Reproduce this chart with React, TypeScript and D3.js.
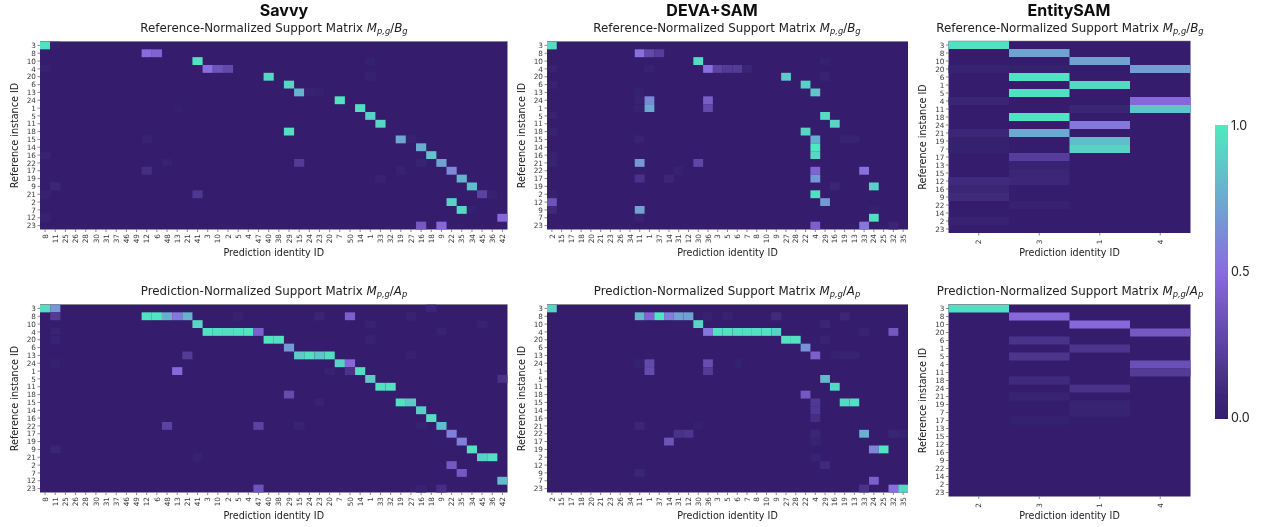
import React from "react";
import * as d3 from "d3";

type T = [number, number, number];

const savvyRows = [3, 8, 10, 4, 20, 6, 13, 24, 1, 5, 11, 18, 15, 14, 16, 22, 17, 19, 9, 21, 2, 7, 12, 23];
const savvyCols = [8, 11, 25, 26, 28, 30, 31, 37, 46, 49, 12, 6, 48, 13, 21, 41, 3, 10, 2, 5, 4, 47, 40, 38, 29, 15, 24, 23, 20, 7, 50, 14, 1, 33, 32, 19, 27, 16, 18, 9, 22, 35, 34, 45, 36, 42];
const devaRows = [3, 8, 10, 4, 20, 6, 13, 24, 1, 5, 11, 18, 15, 14, 16, 21, 22, 17, 19, 2, 12, 9, 7, 23];
const devaCols = [2, 15, 17, 18, 20, 21, 23, 26, 34, 11, 1, 37, 14, 31, 12, 30, 36, 3, 5, 6, 7, 8, 10, 9, 27, 28, 22, 4, 29, 16, 19, 13, 33, 24, 25, 32, 35];
const entityRows = [3, 8, 10, 20, 6, 1, 5, 4, 11, 18, 24, 21, 19, 7, 17, 13, 15, 12, 16, 9, 22, 14, 2, 23];
const entityCols = [2, 3, 1, 4];

// [reference id, prediction id, value]; unlisted cells are ~0
const savvyRef: T[] = [
  [3, 8, .97], [3, 11, .02], [8, 12, .5], [8, 6, .45], [10, 41, .97], [10, 1, .02], [4, 8, .03], [4, 3, .52], [4, 10, .35], [4, 2, .28],
  [20, 40, .92], [20, 1, .03], [6, 29, .92], [13, 15, .78], [13, 24, .04], [13, 23, .02], [24, 7, .97], [1, 14, .95], [1, 13, .02],
  [5, 1, .9], [11, 33, .92], [18, 29, .96], [15, 12, .04], [15, 19, .73], [15, 27, .03], [14, 16, .76], [16, 8, .04], [16, 18, .85],
  [22, 48, .03], [22, 15, .2], [22, 16, .05], [22, 9, .72], [17, 12, .12], [17, 22, .62], [17, 19, .03], [19, 33, .04], [19, 35, .78],
  [9, 11, .08], [9, 34, .82], [21, 8, .03], [21, 41, .18], [21, 45, .25], [21, 36, .03], [2, 22, .9], [7, 35, .92], [7, 34, .02],
  [12, 8, .03], [12, 42, .48], [23, 16, .38], [23, 9, .48],
];
const savvyPred: T[] = [
  [3, 8, .95], [3, 11, .68], [3, 18, .07], [8, 11, .2], [8, 12, .97], [8, 6, .98], [8, 48, .76], [8, 13, .55], [8, 21, .78], [8, 23, .07],
  [8, 50, .42], [8, 27, .05], [8, 5, .03], [10, 41, .92], [10, 1, .04], [10, 45, .04], [4, 11, .04], [4, 3, .97], [4, 10, .96], [4, 2, .95],
  [4, 5, .97], [4, 4, .98], [4, 47, .42], [4, 9, .04], [20, 11, .06], [20, 40, .98], [20, 38, .97], [20, 1, .05], [6, 29, .68],
  [13, 21, .2], [13, 15, .88], [13, 24, .96], [13, 23, .85], [13, 20, .95], [13, 27, .03], [24, 7, .92], [24, 50, .48], [24, 11, .02],
  [1, 13, .48], [1, 20, .04], [1, 50, .15], [1, 14, .95], [5, 1, .88], [5, 42, .14], [11, 33, .96], [11, 32, .97], [18, 29, .3],
  [15, 23, .04], [15, 19, .97], [15, 27, .87], [14, 16, .88], [16, 18, .96], [22, 48, .25], [22, 47, .25], [22, 15, .06], [22, 16, .03],
  [22, 9, .82], [17, 22, .58], [19, 35, .58], [9, 11, .07], [9, 34, .97], [21, 41, .03], [21, 45, .9], [21, 36, .96], [2, 22, .38],
  [7, 35, .38], [12, 42, .82], [23, 47, .35], [23, 16, .06], [23, 9, .13],
];
const devaRef: T[] = [
  [3, 2, .95], [8, 11, .52], [8, 1, .28], [8, 37, .22], [10, 30, .95], [10, 29, .02], [4, 2, .04], [4, 36, .52], [4, 3, .25], [4, 5, .2],
  [4, 6, .2], [4, 7, .07], [4, 1, .03], [20, 27, .88], [20, 29, .04], [6, 2, .06], [6, 22, .9], [13, 4, .85], [13, 11, .02], [24, 11, .04],
  [24, 1, .62], [24, 36, .4], [1, 11, .03], [1, 1, .74], [1, 36, .28], [5, 2, .04], [5, 29, .95], [11, 16, .92], [18, 2, .06], [18, 22, .92],
  [15, 11, .06], [15, 4, .75], [15, 19, .06], [15, 13, .04], [14, 4, 1], [16, 2, .04], [16, 4, .93], [21, 2, .05], [21, 11, .68], [21, 30, .27],
  [22, 31, .03], [22, 4, .45], [22, 33, .52], [17, 11, .15], [17, 14, .08], [17, 4, .68], [19, 16, .07], [19, 24, .9], [2, 2, .03], [2, 4, .95],
  [12, 2, .35], [12, 29, .68], [9, 2, .1], [9, 11, .72], [9, 24, .02], [7, 11, .04], [7, 24, .95], [23, 4, .42], [23, 33, .55], [23, 32, .07],
];
const devaPred: T[] = [
  [3, 2, .92], [8, 11, .8], [8, 1, .45], [8, 37, .98], [8, 14, .58], [8, 31, .72], [8, 12, .72], [8, 36, .03], [8, 5, .04], [8, 9, .1], [8, 19, .08],
  [10, 30, .92], [10, 29, .07], [4, 36, .55], [4, 3, .97], [4, 5, .97], [4, 6, .96], [4, 7, .96], [4, 8, .97], [4, 10, .97], [4, 9, .9], [4, 33, .05], [4, 32, .38],
  [20, 27, .97], [20, 28, .97], [20, 29, .05], [6, 22, .65], [13, 4, .42], [13, 16, .02], [13, 19, .04], [13, 13, .05], [24, 1, .28], [24, 36, .32],
  [24, 11, .02], [24, 6, .02], [1, 1, .3], [1, 36, .2], [5, 29, .8], [11, 16, .93], [18, 22, .38], [15, 4, .18], [15, 19, .93], [15, 13, .96],
  [14, 4, .18], [16, 4, .13], [21, 11, .08], [21, 30, .02], [22, 31, .15], [22, 12, .17], [22, 4, .07], [22, 33, .78], [22, 32, .07], [22, 35, .05],
  [17, 14, .35], [17, 4, .06], [19, 24, .6], [19, 25, .98], [2, 4, .06], [12, 29, .1], [9, 11, .07], [7, 24, .42], [23, 33, .15], [23, 32, .52], [23, 35, .92],
];
const entityRef: T[] = [
  [3, 2, .97], [8, 3, .72], [10, 1, .72], [20, 4, .7], [20, 2, .05], [20, 3, .02], [6, 3, .97], [1, 1, .92], [5, 3, .96], [4, 2, .07], [4, 4, .48],
  [11, 1, .07], [11, 4, .85], [18, 3, .97], [24, 1, .55], [21, 2, .08], [21, 3, .74], [19, 1, .82], [7, 1, .9], [7, 2, .02], [19, 2, .01], [17, 3, .22],
  [13, 3, .05], [15, 3, .07], [12, 2, .1], [12, 3, .08], [16, 2, .07], [9, 2, .09], [22, 3, .03], [2, 2, .04],
];
const entityPred: T[] = [
  [3, 2, .95], [8, 3, .48], [10, 1, .48], [20, 4, .38], [6, 3, .15], [1, 1, .17], [5, 3, .17], [4, 4, .33], [11, 4, .2], [18, 3, .1], [24, 1, .14],
  [21, 3, .04], [19, 1, .05], [7, 1, .04], [17, 3, .015],
];

const colorbarTicks = [0, 0.5, 1];
const color = d3.scaleLinear<string>().domain([0, 0.06, 0.5, 1]).range(["#341f6c", "#392473", "#8a6be0", "#4eeabf"]).interpolate(d3.interpolateRgb);

const DEJAVU = "'DejaVu Sans', sans-serif";
const TICK = "#3a3a3a";

function Heatmap({ x0, x1, y0, y1, rows, cols, cells, kind, tx, ylx, tickSize, xPad }: any) {
  const xs = d3.scaleBand<number>().domain(cols).range([x0, x1]);
  const ys = d3.scaleBand<number>().domain(rows).range([y0, y1]);
  const lookup = new Map(cells.map((c: T) => [c[0] + "_" + c[1], c[2]]));
  const isRef = kind === "ref";
  const sub = (t: string) => <tspan fontStyle="italic" fontSize={8.3} dy={2}>{t}</tspan>;
  return (
    <g>
      <text x={tx} y={y0 - 9.5} textAnchor="middle" fontFamily={DEJAVU} fontSize={11.85} fill="#222">
        {isRef ? "Reference" : "Prediction"}-Normalized Support Matrix{" "}
        <tspan fontStyle="italic">M</tspan>{sub("p,g")}
        <tspan dy={-2}>/</tspan>
        <tspan fontStyle="italic">{isRef ? "B" : "A"}</tspan>
        {sub(isRef ? "g" : "p")}
      </text>
      <rect x={x0} y={y0} width={x1 - x0} height={y1 - y0} fill={color(0)} />
      <g filter="url(#soft)">
        {rows.flatMap((r: number) =>
          cols.map((c: number) => {
            const v = lookup.get(r + "_" + c) as number | undefined;
            return v === undefined ? null : (
              <rect key={r + "_" + c} x={xs(c)} y={ys(r)} width={xs.bandwidth()} height={ys.bandwidth()} fill={color(v)} />
            );
          })
        )}
      </g>
      <line x1={x0} x2={x1} y1={y0} y2={y0} stroke="#777" strokeWidth={0.7} opacity={0.7} />
      {rows.map((r: number) => {
        const y = ys(r)! + ys.bandwidth() / 2;
        return (
          <g key={r}>
            <line x1={x0 - 2.5} x2={x0} y1={y} y2={y} stroke={TICK} strokeWidth={0.6} />
            <text x={x0 - 4} y={y} dy="0.36em" textAnchor="end" fontFamily={DEJAVU} fontSize={tickSize} fill={TICK}>{r}</text>
          </g>
        );
      })}
      {cols.map((c: number) => {
        const x = xs(c)! + xs.bandwidth() / 2;
        return (
          <g key={c}>
            <line x1={x} x2={x} y1={y1} y2={y1 + 2.5} stroke={TICK} strokeWidth={0.6} />
            <text transform={`translate(${x},${y1 + xPad}) rotate(-90)`} dy="0.36em" textAnchor="end" fontFamily={DEJAVU} fontSize={tickSize} fill={TICK}>{c}</text>
          </g>
        );
      })}
      <text x={(x0 + x1) / 2} y={isRef ? 255.5 : 518.5} textAnchor="middle" fontFamily={DEJAVU} fontSize={9.6} fill="#222">Prediction identity ID</text>
      <text transform={`translate(${ylx},${(y0 + y1) / 2}) rotate(-90)`} dy="0.36em" textAnchor="middle" fontFamily={DEJAVU} fontSize={9.6} fill="#222">Reference instance ID</text>
    </g>
  );
}

const BAR = { x: 1215, w: 13, top: 125, bottom: 419 };

export default function App() {
  const barY = d3.scaleLinear().domain([0, 1]).range([BAR.bottom - 2, BAR.top]);
  const stops = d3.range(0, 1.0001, 0.1);
  const head = { fontFamily: "Inter, 'Liberation Sans', sans-serif", fontWeight: 700, fontSize: 16, fill: "#0a0a0a", textAnchor: "middle" as const };
  return (
    <svg width={1261} height={527} style={{ position: "absolute", left: 0, top: 0, background: "#fff" }}>
      <defs>
        <filter id="soft" x="-20%" y="-20%" width="140%" height="140%">
          <feGaussianBlur stdDeviation="0.45" />
        </filter>
        <filter id="softAll" filterUnits="userSpaceOnUse" x="0" y="0" width="1261" height="527">
          <feGaussianBlur stdDeviation="0.28" />
        </filter>
        <linearGradient id="cb" x1="0" x2="0" y1="1" y2="0">
          {stops.map((s) => <stop key={s} offset={s} stopColor={color(s)} />)}
        </linearGradient>
      </defs>
      <g filter="url(#softAll)">
        <text x={284} y={15.5} {...head}>Savvy</text>
        <text x={712} y={15.5} {...head}>DEVA+SAM</text>
        <text x={1069} y={15.5} {...head}>EntitySAM</text>

        <Heatmap x0={40} x1={507.5} y0={41.5} y1={229.5} rows={savvyRows} cols={savvyCols} cells={savvyRef} kind="ref" tx={274} ylx={15} tickSize={7.3} xPad={4.5} />
        <Heatmap x0={40} x1={507.5} y0={304.5} y1={492.5} rows={savvyRows} cols={savvyCols} cells={savvyPred} kind="pred" tx={274} ylx={15} tickSize={7.3} xPad={4.5} />
        <Heatmap x0={547} x1={908} y0={41.5} y1={229.5} rows={devaRows} cols={devaCols} cells={devaRef} kind="ref" tx={727} ylx={522} tickSize={7.3} xPad={4.5} />
        <Heatmap x0={547} x1={908} y0={304.5} y1={492.5} rows={devaRows} cols={devaCols} cells={devaPred} kind="pred" tx={727} ylx={522} tickSize={7.3} xPad={4.5} />
        <Heatmap x0={948.5} x1={1190.5} y0={41} y1={233} rows={entityRows} cols={entityCols} cells={entityRef} kind="ref" tx={1070} ylx={923} tickSize={7.3} xPad={6.5} />
        <Heatmap x0={948.5} x1={1190.5} y0={304.5} y1={496.5} rows={entityRows} cols={entityCols} cells={entityPred} kind="pred" tx={1070} ylx={923} tickSize={7.3} xPad={6.5} />

        <rect x={BAR.x} y={BAR.top} width={BAR.w} height={BAR.bottom - BAR.top} fill="url(#cb)" />
        {colorbarTicks.map((t) => (
          <text key={t} x={1231} y={barY(t)} dy="0.36em" fontFamily="Inter, 'Liberation Sans', sans-serif" fontSize={12.5} fill="#222">{t.toFixed(1)}</text>
        ))}
      </g>
    </svg>
  );
}
